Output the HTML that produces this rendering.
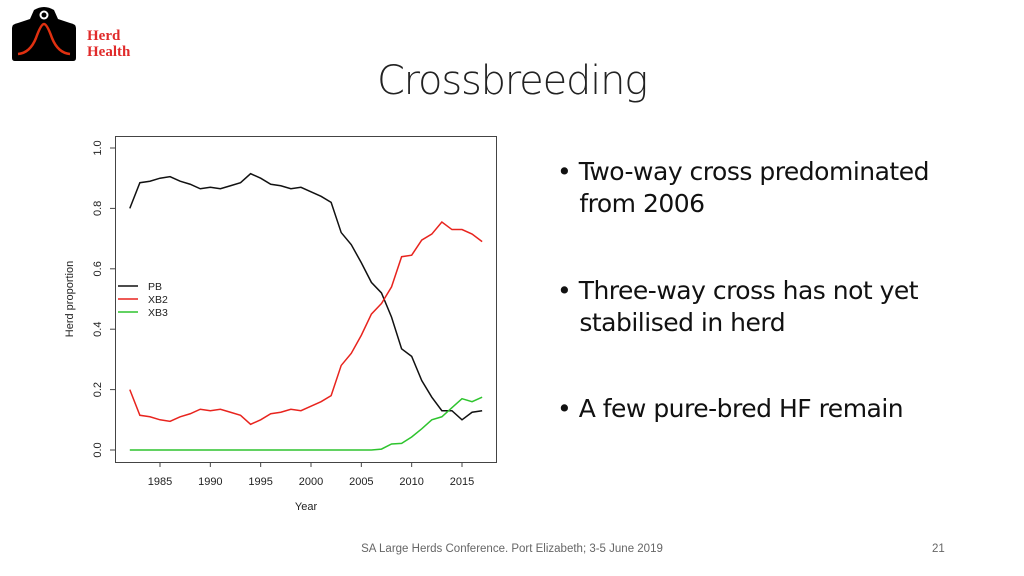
<!DOCTYPE html>
<html><head><meta charset="utf-8"><style>
body{margin:0;width:1024px;height:576px;background:#fff;overflow:hidden;position:relative;font-family:"Liberation Sans",sans-serif}
.t{position:absolute}
</style></head><body>
<div class="t" style="left:8px;top:6px;width:130px;height:58px">
<svg width="130" height="58">
<path d="M4 22 Q4 18 10 17 L22 13 L26 4 Q36 -2 46 4 L50 13 L62 17 Q68 18 68 22 L68 52 Q68 55 65 55 L7 55 Q4 55 4 52Z" fill="#000"/>
<circle cx="36" cy="9" r="4.5" fill="#fff"/><circle cx="36" cy="9" r="2.5" fill="#000"/>
<path d="M10 48 Q22 47 28 32 Q33 18 36 18 Q39 18 44 32 Q50 47 62 48" stroke="#e03010" stroke-width="2.5" fill="none"/>
</svg>
<div class="t" style="left:79px;top:22px;font-family:'Liberation Serif',serif;font-weight:bold;color:#e02a2a;font-size:15px;line-height:16px">Herd<br>Health</div>
</div>
<div class="t" style="left:0;width:1024px;top:58px;text-align:center;font-size:40px;color:#222;font-family:'DejaVu Sans',sans-serif;font-weight:300;letter-spacing:-1.2px">Crossbreeding</div>
<svg class="t" style="left:0;top:0" width="1024" height="576" id="chart"></svg>
<div class="t" style="left:557px;top:156px;font-size:25px;color:#111;line-height:32px;font-family:'DejaVu Sans',sans-serif;letter-spacing:-0.5px">
<div style="position:absolute;top:0;width:440px">•&nbsp;Two-way cross predominated<br>&nbsp;&nbsp;&nbsp;from 2006</div>
<div style="position:absolute;top:119px;width:440px">•&nbsp;Three-way cross has not yet<br>&nbsp;&nbsp;&nbsp;stabilised in herd</div>
<div style="position:absolute;top:237px;width:440px">•&nbsp;A few pure-bred HF remain</div>
</div>
<div class="t" style="left:0;width:1024px;top:543px;text-align:center;font-size:11.5px;color:#666">SA Large Herds Conference. Port Elizabeth; 3-5 June 2019</div>
<div class="t" style="left:932px;top:543px;font-size:11.5px;color:#666">21</div>
<script>
const years=[1982,1983,1984,1985,1986,1987,1988,1989,1990,1991,1992,1993,1994,1995,1996,1997,1998,1999,2000,2001,2002,2003,2004,2005,2006,2007,2008,2009,2010,2011,2012,2013,2014,2015,2016,2017];
const pb=[.80,.885,.89,.90,.905,.89,.88,.865,.87,.865,.875,.885,.915,.90,.88,.875,.865,.87,.855,.84,.82,.72,.68,.62,.555,.52,.44,.335,.31,.23,.175,.13,.13,.10,.125,.13];
const xb2=[.20,.115,.11,.10,.095,.11,.12,.135,.13,.135,.125,.115,.085,.10,.12,.125,.135,.13,.145,.16,.18,.28,.32,.38,.45,.485,.54,.64,.645,.695,.715,.755,.73,.73,.715,.69];
const xb3=[0,0,0,0,0,0,0,0,0,0,0,0,0,0,0,0,0,0,0,0,0,0,0,0,0,.003,.02,.022,.043,.07,.10,.11,.14,.17,.16,.175];
const xTicks=[1985,1990,1995,2000,2005,2010,2015];
const yTicks=[0,0.2,0.4,0.6,0.8,1.0];
const series=[{n:'PB',v:pb,c:'#111'},{n:'XB2',v:xb2,c:'#e8241e'},{n:'XB3',v:xb3,c:'#2ec42e'}];
const X=y=>160+(y-1985)*(302/30), Y=v=>450-v*302;
const svg=document.getElementById('chart'),NS='http://www.w3.org/2000/svg';
function mk(t,a,p){const e=document.createElementNS(NS,t);for(const k in a)e.setAttribute(k,a[k]);(p||svg).appendChild(e);return e;}
const box=mk('rect',{x:115.5,y:136.5,width:381,height:326,fill:'none',stroke:'#444','stroke-width':1});


xTicks.forEach(t=>{const l=mk('line',{x1:X(t),x2:X(t),y1:462,y2:467,stroke:'#444'});


const tx=mk('text',{x:X(t),y:485,'text-anchor':'middle','font-size':11,fill:'#222'});tx.textContent=t;

});
yTicks.forEach(t=>{const l=mk('line',{x1:110,x2:115,y1:Y(t),y2:Y(t),stroke:'#444'});


const tx=mk('text',{x:0,y:0,'text-anchor':'middle','font-size':11,fill:'#222',transform:`translate(101,${Y(t)}) rotate(-90)`});tx.textContent=t.toFixed(1);

});
const xt=mk('text',{x:306,y:510,'text-anchor':'middle','font-size':11,fill:'#222'});xt.textContent='Year';


const yt=mk('text',{x:0,y:0,'text-anchor':'middle','font-size':11,fill:'#222',transform:'translate(73,299) rotate(-90)'});yt.textContent='Herd proportion';


series.forEach((s,i)=>{const p=mk('polyline',{points:s.v.map((v,j)=>X(years[j])+','+Y(v)).join(' '),fill:'none',stroke:s.c,'stroke-width':1.5});


const ly=286+i*13;
const l=mk('line',{x1:118,x2:138,y1:ly,y2:ly,stroke:s.c,'stroke-width':1.5});


const tx=mk('text',{x:148,y:ly+4,'font-size':10.5,fill:'#222'});tx.textContent=s.n;

});
</script>
</body></html>
